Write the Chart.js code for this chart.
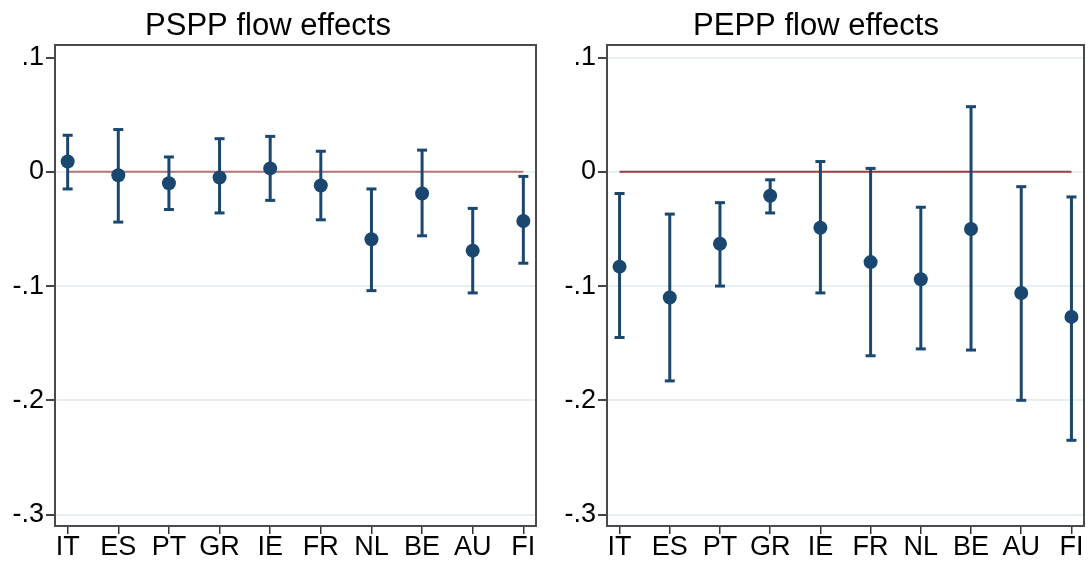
<!DOCTYPE html>
<html>
<head>
<meta charset="utf-8">
<script src="https://cdn.jsdelivr.net/npm/chart.js@4"></script>
<style>
  body { margin: 0; background: #fff; }
  #wrap { position: relative; width: 1092px; height: 572px; }
  canvas { position: absolute; top: 0; }
</style>
</head>
<body>
<div id="wrap">
  <canvas id="pspp" width="546" height="572" style="left:0"></canvas>
  <canvas id="pepp" width="546" height="572" style="left:546px"></canvas>
</div>
<script>
const countries = ['IT', 'ES', 'PT', 'GR', 'IE', 'FR', 'NL', 'BE', 'AU', 'FI'];
const yTickValues = [0.1, 0, -0.1, -0.2, -0.3];
const yTickLabels = ['.1', '0', '-.1', '-.2', '-.3'];

// PSPP: point estimate, lower and upper bound
const psppEst   = [0.009, -0.003, -0.010, -0.005, 0.003, -0.012, -0.059, -0.019, -0.069, -0.043];
const psppLow   = [-0.015, -0.044, -0.033, -0.036, -0.025, -0.042, -0.104, -0.056, -0.106, -0.080];
const psppHigh  = [0.032, 0.037, 0.013, 0.029, 0.031, 0.018, -0.015, 0.019, -0.032, -0.004];

// PEPP
const peppEst   = [-0.083, -0.110, -0.063, -0.021, -0.049, -0.079, -0.094, -0.050, -0.106, -0.127];
const peppLow   = [-0.145, -0.183, -0.100, -0.036, -0.106, -0.161, -0.155, -0.156, -0.200, -0.235];
const peppHigh  = [-0.019, -0.037, -0.027, -0.007, 0.009, 0.003, -0.031, 0.057, -0.013, -0.022];

const navy = '#1a476f';
const fontFamily = '"Liberation Sans", Arial, sans-serif';

// box around the plot region
const boxPlugin = {
  id: 'box',
  afterDraw(chart) {
    const a = chart.chartArea;
    const ctx = chart.ctx;
    ctx.save();
    ctx.strokeStyle = '#4a4a4a';
    ctx.lineWidth = 2;
    ctx.strokeRect(a.left, a.top, a.right - a.left, a.bottom - a.top);
    ctx.restore();
  }
};

function makeChart(id, title, est, low, high, opts) {
  const whisker = [];
  const caps = [];
  countries.forEach((c, i) => {
    whisker.push({x: i + 1, y: low[i]}, {x: i + 1, y: high[i]}, {x: i + 1, y: null});
    caps.push({x: i + 1, y: low[i]}, {x: i + 1, y: high[i]});
  });

  return new Chart(document.getElementById(id), {
    type: 'scatter',
    data: {
      datasets: [
        {
          type: 'scatter',
          data: est.map((v, i) => ({x: i + 1, y: v})),
          backgroundColor: navy,
          borderWidth: 0,
          pointRadius: 7,
          order: 1
        },
        {
          type: 'scatter',
          data: caps,
          pointStyle: 'line',
          pointRadius: 5,
          borderColor: navy,
          borderWidth: 3,
          order: 2
        },
        {
          type: 'line',
          data: whisker,
          borderColor: navy,
          borderWidth: 3,
          pointRadius: 0,
          spanGaps: false,
          order: 3
        },
        {
          type: 'line',
          data: [{x: 1, y: 0}, {x: countries.length, y: 0}],
          borderColor: opts.zeroColor,
          borderWidth: 2,
          pointRadius: 0,
          order: 4
        }
      ]
    },
    options: {
      responsive: false,
      animation: false,
      layout: { padding: { left: 0, right: opts.padRight, top: 0, bottom: 0 } },
      plugins: {
        legend: { display: false },
        tooltip: { enabled: false },
        title: {
          display: true,
          text: title,
          color: '#000',
          font: { family: fontFamily, size: 31, weight: 'normal', lineHeight: 1 },
          padding: { top: 11, bottom: 3 }
        }
      },
      scales: {
        x: {
          type: 'linear',
          min: 0.75,
          max: 10.25,
          afterBuildTicks: s => { s.ticks = countries.map((c, i) => ({value: i + 1})); },
          afterFit: s => { s.height = 46; },
          border: { display: false },
          grid: { drawOnChartArea: false, tickLength: 8, tickColor: '#333', lineWidth: 1.5 },
          ticks: {
            autoSkip: false,
            maxRotation: 0,
            padding: 0,
            color: '#000',
            font: { family: fontFamily, size: 27, lineHeight: 1 },
            callback: v => countries[Math.round(v) - 1]
          }
        },
        y: {
          min: -0.31,
          max: 0.111,
          afterBuildTicks: s => { s.ticks = yTickValues.map(v => ({value: v})); },
          afterFit: s => { s.width = opts.yWidth; },
          border: { display: false },
          grid: {
            color: ctx => (opts.hideTopGrid && ctx.tick && ctx.tick.value === 0.1) ? 'rgba(0,0,0,0)' : '#e6eff1',
            lineWidth: 2,
            tickLength: 9,
            tickColor: '#444'
          },
          ticks: {
            padding: 2,
            color: '#000',
            font: { family: fontFamily, size: 27, lineHeight: 1 },
            callback: v => yTickLabels[yTickValues.indexOf(v)]
          }
        }
      }
    },
    plugins: [boxPlugin]
  });
}

makeChart('pspp', 'PSPP flow effects', psppEst, psppLow, psppHigh,
  { padRight: 10, yWidth: 55, zeroColor: '#b87576', hideTopGrid: true });
makeChart('pepp', 'PEPP flow effects', peppEst, peppLow, peppHigh,
  { padRight: 6, yWidth: 61, zeroColor: '#a23a3e', hideTopGrid: false });
</script>
</body>
</html>
